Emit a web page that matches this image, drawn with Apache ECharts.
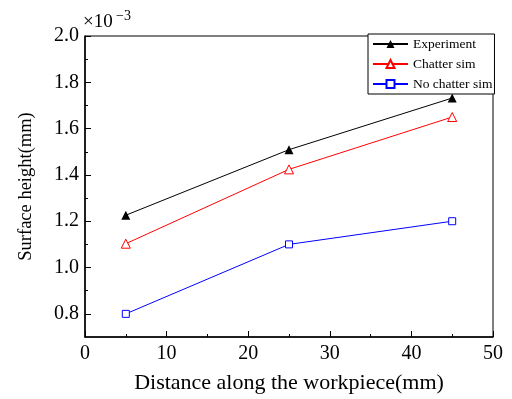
<!DOCTYPE html>
<html><head><meta charset="utf-8">
<script src="https://cdn.jsdelivr.net/npm/echarts@6/dist/echarts.min.js"></script>
<style>html,body{margin:0;padding:0;background:#fff}#c{width:512px;height:399px}</style>
</head><body><div id="c"></div>
<script>
const xValues = [5, 25, 45];
const experiment = [1.226, 1.509, 1.732];
const chatterSim = [1.103, 1.424, 1.65];
const noChatterSim = [0.80, 1.10, 1.20];
const yLabelValues = [0.8, 1.0, 1.2, 1.4, 1.6, 1.8, 2.0];
const yMinorValues = [0.9, 1.1, 1.3, 1.5, 1.7, 1.9];
const xLabelValues = [0, 10, 20, 30, 40, 50];
const xMinorValues = [5, 15, 25, 35, 45];

const F = '"Liberation Serif","Times New Roman",serif';
const pair = a => xValues.map((x, i) => [x, a[i]]);
const chart = echarts.init(document.getElementById('c'));
const grid = {left: 85, right: 19, top: 36, bottom: 58, containLabel: false, show: true, borderColor: '#000', borderWidth: 1};
chart.setOption({
  animation: false,
  grid: grid,
  xAxis: [{
    type: 'value', min: 0, max: 50, interval: 5,
    name: 'Distance along the workpiece(mm)', nameLocation: 'middle', nameGap: 35,
    nameTextStyle: {fontFamily: F, fontSize: 22, color: '#000'},
    axisLine: {lineStyle: {color: '#000', width: 1.5}},
    axisTick: {inside: true, length: 6, customValues: xLabelValues, lineStyle: {color: '#000'}},
    axisLabel: {customValues: xLabelValues, fontFamily: F, fontSize: 20, color: '#000', margin: 7},
    splitLine: {show: false}
  }, {
    type: 'value', min: 0, max: 50, position: 'bottom',
    axisLine: {show: false},
    axisTick: {inside: true, length: 3, customValues: xMinorValues, lineStyle: {color: '#000'}},
    axisLabel: {show: false}, splitLine: {show: false}
  }],
  yAxis: [{
    type: 'value', min: 0.7, max: 2.0, interval: 0.1,
    name: 'Surface height(mm)', nameLocation: 'middle', nameGap: 49, nameRotate: 90,
    nameTextStyle: {fontFamily: F, fontSize: 18.5, color: '#000'},
    axisLine: {show: true, lineStyle: {color: '#000', width: 1.5}},
    axisTick: {show: true, inside: true, length: 6, customValues: yLabelValues, lineStyle: {color: '#000'}},
    axisLabel: {customValues: yLabelValues, fontFamily: F, fontSize: 20, color: '#000', margin: 6,
      formatter: v => v.toFixed(1)},
    splitLine: {show: false}
  }, {
    type: 'value', min: 0.7, max: 2.0, position: 'left',
    axisLine: {show: false},
    axisTick: {show: true, inside: true, length: 3, customValues: yMinorValues, lineStyle: {color: '#000'}},
    axisLabel: {show: false}, splitLine: {show: false}
  }],
  legend: {
    orient: 'vertical', left: 368, top: 34, padding: [3, 2, 3, 4],
    borderColor: '#000', borderWidth: 1, backgroundColor: '#fff',
    itemWidth: 35, itemHeight: 10, itemGap: 6,
    textStyle: {fontFamily: F, fontSize: 13.5, color: '#000'},
    data: ['Experiment', 'Chatter sim', 'No chatter sim']
  },
  graphic: [{
    type: 'text', left: 83, top: 13,
    style: {text: '×10', font: '19px ' + F, fill: '#000'}
  }, {
    type: 'text', left: 116, top: 9,
    style: {text: '−3', font: '14px ' + F, fill: '#000'}
  }],
  series: [{
    name: 'Experiment', type: 'line', data: pair(experiment),
    symbol: 'triangle', symbolSize: 9, color: '#000',
    lineStyle: {width: 1, color: '#000'}, itemStyle: {color: '#000'}
  }, {
    name: 'Chatter sim', type: 'line', data: pair(chatterSim),
    symbol: 'triangle', symbolSize: 9, color: '#ff0000',
    lineStyle: {width: 1, color: '#ff0000'}, itemStyle: {color: '#fff', borderColor: '#ff0000', borderWidth: 1}
  }, {
    name: 'No chatter sim', type: 'line', data: pair(noChatterSim),
    symbol: 'rect', symbolSize: 7, color: '#0000ff',
    lineStyle: {width: 1, color: '#0000ff'}, itemStyle: {color: '#fff', borderColor: '#0000ff', borderWidth: 1}
  }]
});
</script></body></html>
